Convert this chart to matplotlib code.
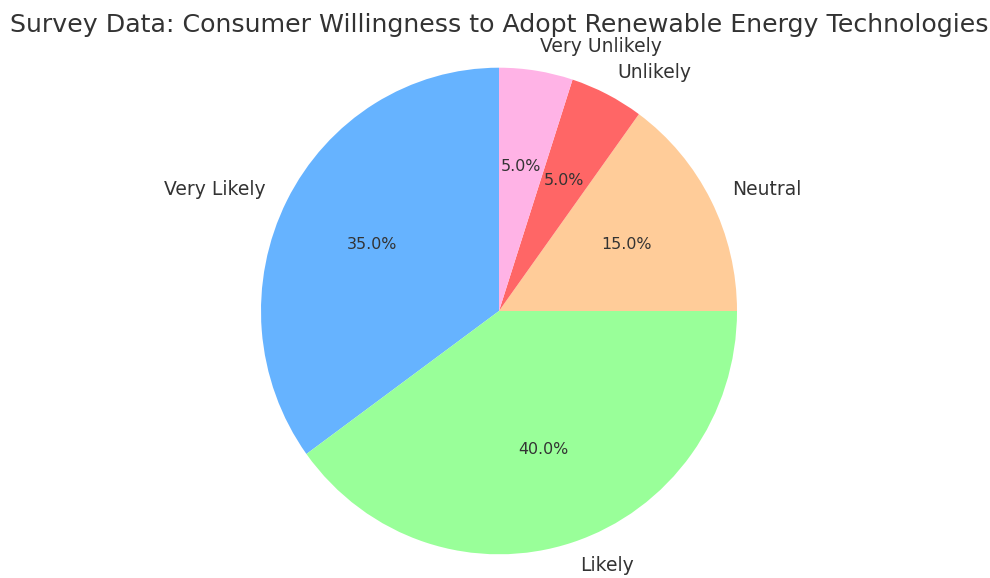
import matplotlib
matplotlib.use("Agg")
import matplotlib.pyplot as plt

labels = ["Very Likely", "Likely", "Neutral", "Unlikely", "Very Unlikely"]
values = [35, 40, 15, 5, 5]
colors = ["#66b3ff", "#99ff99", "#ffcc99", "#ff6666", "#ffb3e6"]
title = "Survey Data: Consumer Willingness to Adopt Renewable Energy Technologies"

W, H = 990, 578
fig = plt.figure(figsize=(W / 100, H / 100), dpi=100)
cx, cy, rx, ry = 499, 311, 238, 243.3
lim = 1.1
ax = fig.add_axes([(cx - rx * lim) / W, (H - cy - ry * lim) / H, 2 * rx * lim / W, 2 * ry * lim / H])
wedges, texts, autotexts = ax.pie(values, labels=labels, colors=colors, autopct="%1.1f%%",
                                  startangle=90, textprops={"color": "#333333"})
for t in texts:
    t.set_fontsize(13.5)
for t in autotexts:
    t.set_fontsize(11.4)
ax.set_xlim(-lim, lim)
ax.set_ylim(-lim, lim)
ax.set_aspect("auto")
fig.text(499 / W, 1 - 25 / H, title, ha="center", va="center", fontsize=18.15, color="#333333")
fig.savefig("out.png", dpi=100)
